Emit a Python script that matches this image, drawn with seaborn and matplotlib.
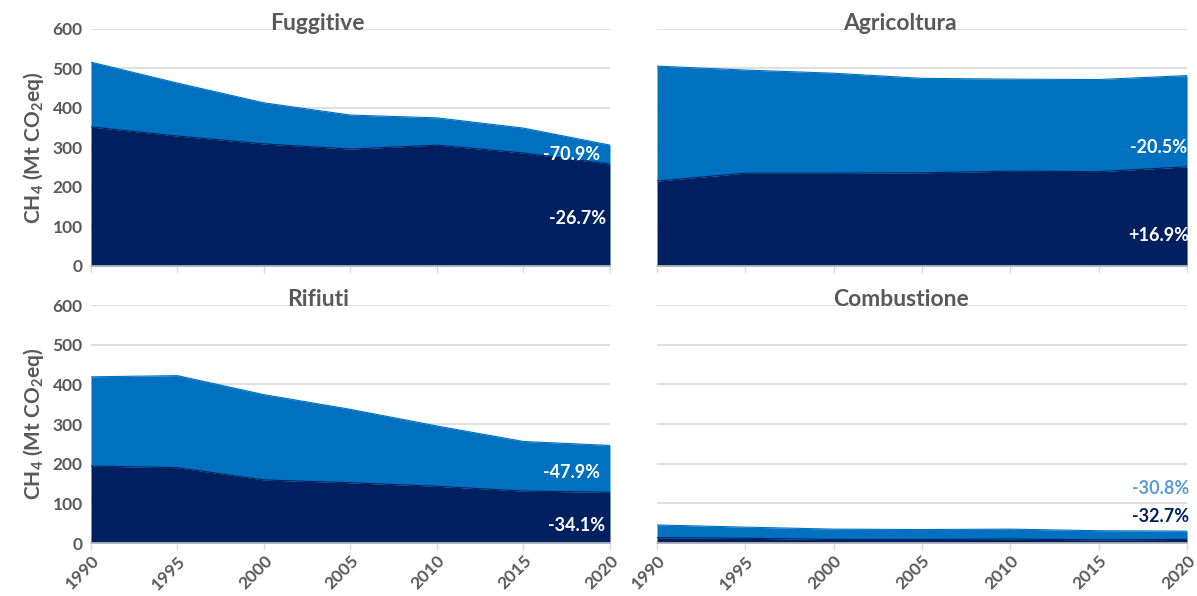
import matplotlib
matplotlib.use("Agg")
import matplotlib.pyplot as plt
import seaborn as sns
import pandas as pd

# ---------------- data ----------------
years = [1990, 1995, 2000, 2005, 2010, 2015, 2020]

fug_dark = [352, 329, 309, 296, 306, 286, 258]
fug_light = [164, 134, 104, 86, 69, 63, 48]

agr_dark = [215, 235, 235, 236, 240, 239, 251]
agr_light = [291, 261, 253, 239, 233, 233, 231]

rif_dark = [194, 190, 159, 152, 143, 131, 128]
rif_light = [225, 232, 215, 185, 152, 125, 118]

com_dark = [13.5, 12, 9, 9, 10, 8, 9]
com_light = [32, 28, 26, 25, 25, 23, 21]

titles = ["Fuggitive", "Agricoltura", "Rifiuti", "Combustione"]
light_labels = ["-70.9%", "-20.5%", "-47.9%", "-30.8%"]
dark_labels = ["-26.7%", "+16.9%", "-34.1%", "-32.7%"]
yticks = [0, 100, 200, 300, 400, 500, 600]

# ---------------- style ----------------
DARK = "#002060"
LIGHT = "#0070C0"
GREY = "#595959"

sns.set_theme(style="white")
plt.rcParams["font.family"] = ["Lato", "DejaVu Sans"]
plt.rcParams["font.weight"] = "bold"
plt.rcParams["mathtext.fontset"] = "custom"
plt.rcParams["mathtext.rm"] = "Lato:bold"
plt.rcParams["mathtext.it"] = "Lato:bold"
plt.rcParams["mathtext.bf"] = "Lato:bold"

fig = plt.figure(figsize=(11.97, 5.96), dpi=100)

positions = [
    [0.076, 0.5537, 0.4336, 0.3977],
    [0.5489, 0.5537, 0.4428, 0.3977],
    [0.076, 0.0889, 0.4336, 0.3993],
    [0.5489, 0.0889, 0.4428, 0.3993],
]
datasets = [(fug_dark, fug_light), (agr_dark, agr_light),
            (rif_dark, rif_light), (com_dark, com_light)]
title_x = [0.437, 0.458, 0.437, 0.46]
# label placement (axes fraction x, data y)
light_pos = [(0.981, 281), (1.0, 301), (0.981, 177), (1.004, 137)]
dark_pos = [(0.993, 121), (1.003, 78), (0.991, 43), (1.004, 68)]
light_lab_color = ["white", "white", "white", "#5B9BD5"]
dark_lab_color = ["white", "white", "white", DARK]

for i, (pos, (dark, light)) in enumerate(zip(positions, datasets)):
    ax = fig.add_axes(pos)
    total = [d + l for d, l in zip(dark, light)]
    df = pd.DataFrame({"year": years, "dark": dark, "total": total})

    ax.fill_between(df["year"], 0, df["dark"], color=DARK, lw=0, zorder=2)
    ax.fill_between(df["year"], df["dark"], df["total"], color=LIGHT, lw=0, zorder=2)
    sns.lineplot(data=df, x="year", y="total", ax=ax, color=LIGHT, lw=0.8, zorder=3)
    sns.lineplot(data=df, x="year", y="dark", ax=ax, color=DARK, lw=0.8, zorder=3)

    ax.set_xlim(1990, 2020)
    ax.set_ylim(0, 600)
    ax.set_yticks(yticks)
    ax.set_xticks(years)
    ax.set_xlabel("")
    ax.set_ylabel("")
    ax.set_axisbelow(True)
    ax.grid(axis="y", color="#D9D9D9", lw=1.2, zorder=0)
    ax.grid(axis="x", visible=False)
    for s in ["top", "right", "left"]:
        ax.spines[s].set_visible(False)
    ax.spines["bottom"].set_color("#BFBFBF")
    ax.spines["bottom"].set_linewidth(1.2)
    ax.spines["bottom"].set_zorder(4)

    ax.tick_params(axis="x", direction="out", length=5, width=1, color="#D9D9D9",
                   bottom=True, labelsize=12.5, labelcolor=GREY, pad=2)
    ax.tick_params(axis="y", length=0, labelsize=12.5, labelcolor=GREY, pad=6)

    if i in (0, 2):
        ax.set_ylabel("CH$_4$ (Mt CO$_2$eq)", fontsize=15, color=GREY,
                      fontweight="bold", labelpad=5)
    else:
        ax.tick_params(axis="y", labelleft=False)

    if i in (2, 3):
        ax.set_xticklabels([str(y) for y in years], rotation=45, ha="right",
                           rotation_mode="anchor", fontweight="bold")
    else:
        ax.tick_params(axis="x", labelbottom=False)

    for lab in ax.get_yticklabels():
        lab.set_fontweight("bold")

    ax.text(title_x[i], 1.025, titles[i], transform=ax.transAxes, ha="center",
            va="center", fontsize=16.5, fontweight="bold", color=GREY, zorder=5)

    lx, ly = light_pos[i]
    ax.text(lx, ly, light_labels[i], transform=ax.get_yaxis_transform(), ha="right",
            va="center", fontsize=13, fontweight="bold", color=light_lab_color[i],
            zorder=6, clip_on=False)
    dx, dy = dark_pos[i]
    ax.text(dx, dy, dark_labels[i], transform=ax.get_yaxis_transform(), ha="right",
            va="center", fontsize=13, fontweight="bold", color=dark_lab_color[i],
            zorder=6, clip_on=False)

fig.savefig("out.png", dpi=100)
